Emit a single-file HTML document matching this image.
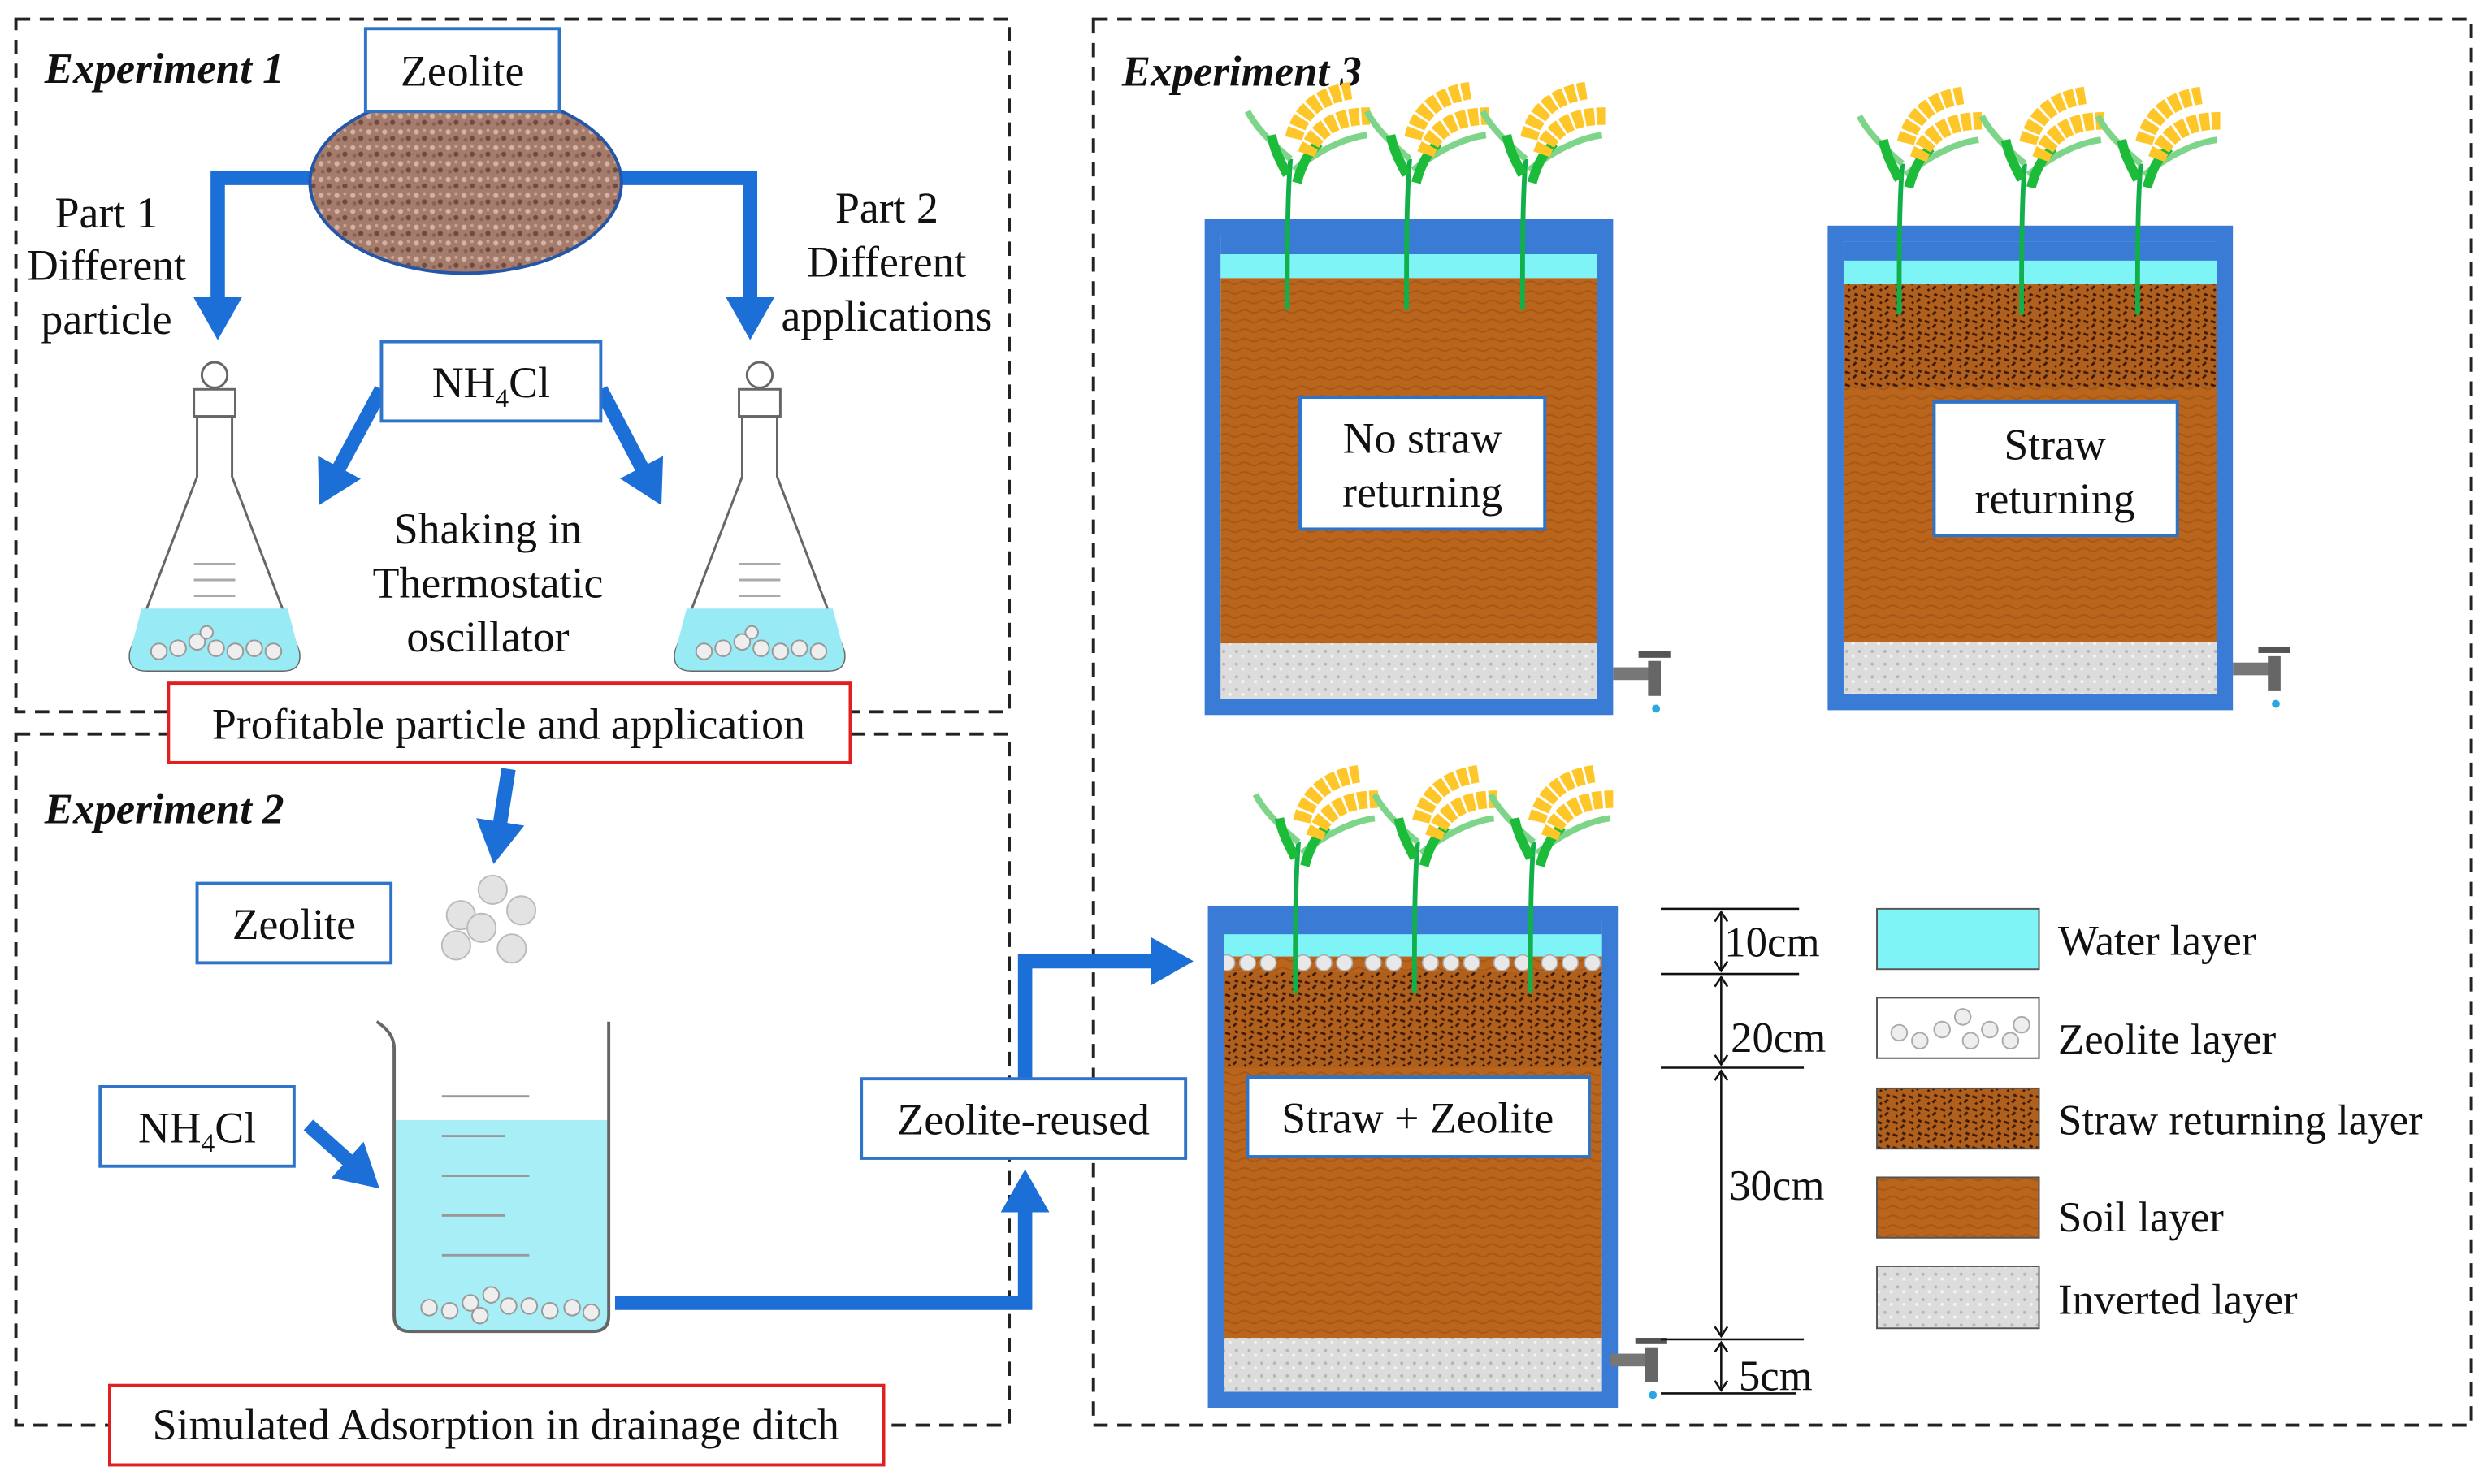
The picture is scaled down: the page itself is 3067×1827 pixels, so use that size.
<!DOCTYPE html>
<html><head><meta charset="utf-8"><style>html,body{margin:0;padding:0;background:#fff}svg{display:block}</style></head>
<body>
<svg width="3067" height="1827" viewBox="0 0 1568 934" xmlns="http://www.w3.org/2000/svg" font-family="Liberation Serif, serif">
<defs>
<marker id="ah" markerWidth="4" markerHeight="4" refX="2" refY="2" orient="auto" markerUnits="strokeWidth"><path d="M0,0.3 L3,2 L0,3.7 z" fill="#1c6fd6"/></marker>
<pattern id="soil" width="12" height="12" patternUnits="userSpaceOnUse"><rect width="12" height="12" fill="#b9651c"/><path d="M0,4 q3,-2 6,0 t6,0 M0,10 q3,-2 6,0 t6,0" stroke="#a8561a" stroke-width="1" fill="none"/></pattern>
<pattern id="inv" width="8" height="8" patternUnits="userSpaceOnUse"><rect width="8" height="8" fill="#dcdcdc"/><circle cx="2" cy="2" r="1" fill="#b5b5b5"/><circle cx="6" cy="5" r="1" fill="#f4f4f4"/></pattern>
<pattern id="straw" width="10" height="8" patternUnits="userSpaceOnUse"><rect width="10" height="8" fill="#b0601c"/><path d="M1,2 l3,1 M6,6 l2,-2 M3,6 l1,1 M7,1 l2,1" stroke="#3a1a08" stroke-width="1.5"/></pattern>
<pattern id="grav" width="10" height="10" patternUnits="userSpaceOnUse"><rect width="10" height="10" fill="#a57b6c"/><circle cx="2" cy="3" r="1.6" fill="#d2b3a6"/><circle cx="7" cy="7" r="1.6" fill="#6e4a40"/><circle cx="7" cy="2" r="1" fill="#c9a397"/><circle cx="3" cy="8" r="1.2" fill="#8a6055"/></pattern>
<g id="plant">
<path d="M0,0 C0,-40 0,-70 2,-95" stroke="#12b04a" stroke-width="3" fill="none"/>
<path d="M2,-95 C-10,-105 -20,-115 -25,-125" stroke="#7ed58a" stroke-width="4" fill="none"/>
<path d="M4,-88 C20,-100 35,-108 50,-110" stroke="#7ed58a" stroke-width="4" fill="none"/>
<path d="M0,-85 C-5,-95 -8,-100 -10,-110" stroke="#1dbb3a" stroke-width="6" fill="none"/>
<path d="M6,-80 C10,-95 15,-100 20,-105" stroke="#1dbb3a" stroke-width="6" fill="none"/>
<path d="M4,-108 C8,-125 20,-135 40,-138" stroke="#ffc629" stroke-width="11" stroke-dasharray="6 1.5" fill="none"/>
<path d="M12,-98 C18,-115 32,-122 52,-122" stroke="#ffc629" stroke-width="11" stroke-dasharray="6 1.5" fill="none"/>
</g>
<g id="faucet"><rect x="0" y="12" width="24" height="8" fill="#777"/><rect x="22" y="8" width="8" height="22" fill="#666"/><rect x="16" y="2" width="20" height="4" fill="#555"/><circle cx="27" cy="38" r="2.5" fill="#2aa7e0"/></g>
</defs>
<g fill="none" stroke="#222" stroke-width="2" stroke-dasharray="9 6">
<rect x="10" y="12" width="625" height="436"/>
<rect x="10" y="462" width="625" height="435"/>
<rect x="688" y="12" width="867" height="885"/>
</g>
<g font-style="italic" font-weight="bold" font-size="27" fill="#111">
<text x="28" y="52">Experiment 1</text><text x="28" y="518">Experiment 2</text><text x="706" y="54">Experiment 3</text>
</g>
<g stroke="#1c6fd6" stroke-width="9" fill="none">
<path d="M200,112 H137 V205" marker-end="url(#ah)"/>
<path d="M388,112 H472 V205" marker-end="url(#ah)"/>
<path d="M240,245 L205,310" marker-end="url(#ah)"/>
<path d="M378,245 L412,310" marker-end="url(#ah)"/>
<path d="M320,484 L312,535" marker-end="url(#ah)"/>
<path d="M194,708 L232,742" marker-end="url(#ah)"/>
<path d="M387,820 H645 V745" marker-end="url(#ah)"/>
<path d="M645,679 V605 H742" marker-end="url(#ah)"/>
</g>
<ellipse cx="293" cy="115" rx="98" ry="57" fill="url(#grav)" stroke="#2456a8" stroke-width="2"/>
<g fill="#fff" stroke="#2e74c8" stroke-width="2">
<rect x="230" y="18" width="122" height="52"/>
<rect x="240" y="215" width="138" height="50"/>
<rect x="124" y="556" width="122" height="50"/>
<rect x="63" y="684" width="122" height="50"/>
<rect x="542" y="679" width="204" height="50"/>
</g>
<g fill="#fff" stroke="#e02020" stroke-width="2"><rect x="106" y="430" width="429" height="50"/><rect x="69" y="872" width="487" height="50"/></g>
<g font-size="27.5" fill="#111" text-anchor="middle">
<text x="291" y="54">Zeolite</text>
<text x="309" y="250">NH<tspan font-size="17" dy="6">4</tspan><tspan dy="-6">Cl</tspan></text>
<text x="67" y="143">Part 1</text><text x="67" y="176">Different</text><text x="67" y="210">particle</text>
<text x="558" y="140">Part 2</text><text x="558" y="174">Different</text><text x="558" y="208">applications</text>
<text x="307" y="342">Shaking in</text><text x="307" y="376">Thermostatic</text><text x="307" y="410">oscillator</text>
<text x="320" y="465">Profitable particle and application</text>
<text x="185" y="591">Zeolite</text>
<text x="124" y="719">NH<tspan font-size="17" dy="6">4</tspan><tspan dy="-6">Cl</tspan></text>
<text x="644" y="714">Zeolite-reused</text>
<text x="312" y="906">Simulated Adsorption in drainage ditch</text>
</g>
<g id="flask" stroke="#666" stroke-width="1.5" fill="#fff">
<path d="M124,262 V300 L82,410 Q80,422 92,422 H178 Q190,422 188,410 L146,300 V262 Z"/>
<path d="M89,383 L181,383 L188,410 Q190,422 178,422 H92 Q80,422 82,410 Z" fill="#98eaf4" stroke="none"/>
<rect x="122" y="245" width="26" height="17"/><circle cx="135" cy="236" r="8"/>
<g fill="#eee" stroke="#999" stroke-width="1"><circle cx="100" cy="410" r="5"/><circle cx="112" cy="408" r="5"/><circle cx="124" cy="404" r="5"/><circle cx="136" cy="408" r="5"/><circle cx="148" cy="410" r="5"/><circle cx="160" cy="408" r="5"/><circle cx="172" cy="410" r="5"/><circle cx="130" cy="398" r="4"/></g>
<path d="M122,355 H148 M122,365 H148 M122,375 H148" stroke="#aaa"/>
</g>
<use href="#flask" x="343"/>
<g fill="#e3e3e3" stroke="#bbb"><circle cx="310" cy="560" r="9"/><circle cx="290" cy="576" r="9"/><circle cx="328" cy="573" r="9"/><circle cx="303" cy="584" r="9"/><circle cx="287" cy="595" r="9"/><circle cx="322" cy="597" r="9"/></g>
<path d="M248,705 H383 V828 Q383,838 373,838 H258 Q248,838 248,828 Z" fill="#a8eef6"/>
<path d="M237,643 Q248,650 248,660 V828 Q248,838 258,838 H373 Q383,838 383,828 V643" fill="none" stroke="#666" stroke-width="2"/>
<path d="M278,690 H333 M278,715 H318 M278,740 H333 M278,765 H318 M278,790 H333" stroke="#999" stroke-width="1.5"/>
<g fill="#eee" stroke="#999" stroke-width="1"><circle cx="270" cy="823" r="5"/><circle cx="283" cy="825" r="5"/><circle cx="296" cy="820" r="5"/><circle cx="309" cy="815" r="5"/><circle cx="320" cy="822" r="5"/><circle cx="333" cy="822" r="5"/><circle cx="346" cy="825" r="5"/><circle cx="360" cy="823" r="5"/><circle cx="372" cy="826" r="5"/><circle cx="302" cy="828" r="5"/></g>
<!-- Tank 1 -->
<rect x="768" y="148" width="237" height="27" fill="#7ff4f7"/>
<rect x="768" y="175" width="237" height="230" fill="url(#soil)"/>
<rect x="768" y="405" width="237" height="36" fill="url(#inv)"/>
<rect x="763" y="143" width="247" height="302" fill="none" stroke="#3a7bd5" stroke-width="10"/>
<rect x="768" y="148" width="237" height="12" fill="#3a7bd5"/>
<use href="#faucet" x="1015" y="408"/>
<use href="#plant" x="810" y="195"/><use href="#plant" x="885" y="195"/><use href="#plant" x="958" y="195"/>
<rect x="818" y="250" width="154" height="83" fill="#fff" stroke="#2e74c8" stroke-width="2"/>
<!-- Tank 2 -->
<rect x="1160" y="152" width="235" height="27" fill="#7ff4f7"/>
<rect x="1160" y="179" width="235" height="225" fill="url(#soil)"/>
<rect x="1160" y="179" width="235" height="65" fill="url(#straw)"/>
<rect x="1160" y="404" width="235" height="33" fill="url(#inv)"/>
<rect x="1155" y="147" width="245" height="295" fill="none" stroke="#3a7bd5" stroke-width="10"/>
<rect x="1160" y="152" width="235" height="12" fill="#3a7bd5"/>
<use href="#faucet" x="1405" y="405"/>
<use href="#plant" x="1195" y="198"/><use href="#plant" x="1272" y="198"/><use href="#plant" x="1345" y="198"/>
<rect x="1217" y="253" width="153" height="84" fill="#fff" stroke="#2e74c8" stroke-width="2"/>
<!-- Tank 3 -->
<rect x="770" y="580" width="238" height="22" fill="#7ff4f7"/>
<rect x="770" y="602" width="238" height="240" fill="url(#soil)"/>
<rect x="770" y="612" width="238" height="60" fill="url(#straw)"/>
<rect x="770" y="842" width="238" height="34" fill="url(#inv)"/>
<g fill="#e8e8e8" stroke="#aaa" stroke-width="0.8"><circle cx="772" cy="606" r="5"/><circle cx="785" cy="606" r="5"/><circle cx="798" cy="606" r="5"/><circle cx="820" cy="606" r="5"/><circle cx="833" cy="606" r="5"/><circle cx="846" cy="606" r="5"/><circle cx="864" cy="606" r="5"/><circle cx="877" cy="606" r="5"/><circle cx="900" cy="606" r="5"/><circle cx="913" cy="606" r="5"/><circle cx="926" cy="606" r="5"/><circle cx="945" cy="606" r="5"/><circle cx="958" cy="606" r="5"/><circle cx="975" cy="606" r="5"/><circle cx="988" cy="606" r="5"/><circle cx="1002" cy="606" r="5"/></g>
<rect x="765" y="575" width="248" height="306" fill="none" stroke="#3a7bd5" stroke-width="10"/>
<rect x="770" y="580" width="238" height="8" fill="#3a7bd5"/>
<use href="#faucet" x="1013" y="840"/>
<use href="#plant" x="815" y="625"/><use href="#plant" x="890" y="625"/><use href="#plant" x="963" y="625"/>
<rect x="785" y="678" width="215" height="50" fill="#fff" stroke="#2e74c8" stroke-width="2"/>
<g font-size="27.5" fill="#111" text-anchor="middle">
<text x="895" y="285">No straw</text><text x="895" y="319">returning</text>
<text x="1293" y="289">Straw</text><text x="1293" y="323">returning</text>
<text x="892" y="713">Straw + Zeolite</text>
</g>
<g stroke="#111" stroke-width="1.3" fill="none">
<path d="M1045,572 H1132 M1045,613 H1132 M1045,672 H1135 M1045,843 H1135 M1045,877 H1130"/>
<path d="M1083,575 V610 M1083,616 V669 M1083,675 V840 M1083,846 V874"/>
<path d="M1079,580 L1083,574 L1087,580 M1079,605 L1083,611 L1087,605 M1079,621 L1083,615 L1087,621 M1079,664 L1083,670 L1087,664 M1079,680 L1083,674 L1087,680 M1079,835 L1083,841 L1087,835 M1079,851 L1083,845 L1087,851 M1079,869 L1083,875 L1087,869"/>
</g>
<g font-size="27" fill="#111"><text x="1085" y="602">10cm</text><text x="1089" y="662">20cm</text><text x="1088" y="755">30cm</text><text x="1094" y="875">5cm</text></g>
<rect x="1181" y="572" width="102" height="38" fill="#7ff4f7" stroke="#555"/>
<rect x="1181" y="628" width="102" height="38" fill="#fff" stroke="#555"/>
<g fill="#eee" stroke="#aaa"><circle cx="1195" cy="650" r="5"/><circle cx="1208" cy="655" r="5"/><circle cx="1222" cy="648" r="5"/><circle cx="1235" cy="640" r="5"/><circle cx="1240" cy="655" r="5"/><circle cx="1252" cy="648" r="5"/><circle cx="1265" cy="655" r="5"/><circle cx="1272" cy="645" r="5"/></g>
<rect x="1181" y="685" width="102" height="38" fill="url(#straw)" stroke="#555"/>
<rect x="1181" y="741" width="102" height="38" fill="url(#soil)" stroke="#555"/>
<rect x="1181" y="797" width="102" height="39" fill="url(#inv)" stroke="#555"/>
<g font-size="27" fill="#111"><text x="1295" y="601">Water layer</text><text x="1295" y="663">Zeolite layer</text><text x="1295" y="714">Straw returning layer</text><text x="1295" y="775">Soil layer</text><text x="1295" y="827">Inverted layer</text></g>
</svg>
</body></html>
